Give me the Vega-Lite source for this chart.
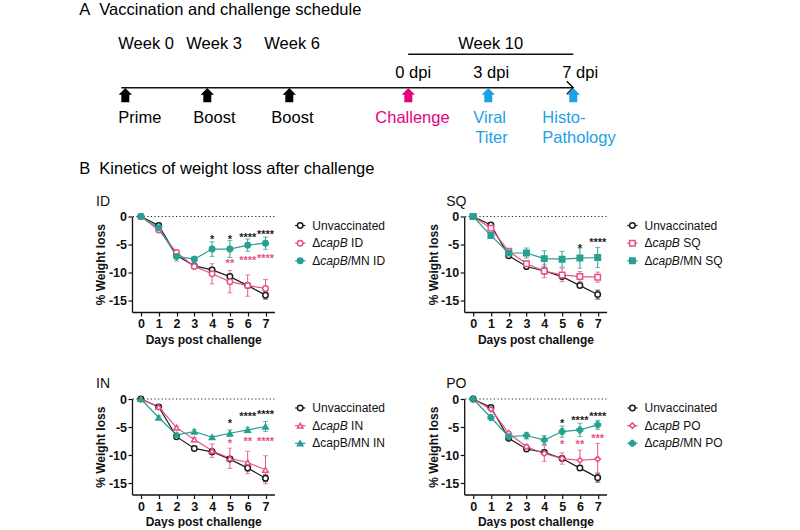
{
 "$schema": "https://vega.github.io/schema/vega-lite/v6.json",
 "padding": {"left": 79, "top": 0, "right": 5, "bottom": 0},
 "background": "white",
 "config": {
  "font": "Liberation Sans",
  "view": {"stroke": null},
  "axis": {"grid": false, "domainColor": "#111", "domainWidth": 1.3, "tickColor": "#111", "tickWidth": 1.2, "tickSize": 4, "labelFont": "Liberation Sans", "labelFontWeight": "bold", "labelFontSize": 12.5, "labelColor": "#111", "titleFont": "Liberation Sans", "titleFontWeight": "bold", "titleFontSize": 12, "titleColor": "#111", "labelOverlap": false},
  "axisX": {"labelPadding": 1.5, "titlePadding": 4, "labelAngle": 0, "labelOverlap": false},
  "axisY": {"labelPadding": 1.5, "titlePadding": 0.5},
  "title": {"font": "Liberation Sans", "fontSize": 14, "fontWeight": "normal", "anchor": "start", "frame": "group", "color": "#111"}
 },
 "datasets": {
  "sched_text": [
   {"t": -1.683, "lv": 0.465, "txt": "A", "k": "black"},
   {"t": -0.951, "lv": 0.465, "txt": "Vaccination and challenge schedule", "k": "black"},
   {"t": -0.256, "lv": 2.135, "txt": "Week 0", "k": "black"},
   {"t": 2.232, "lv": 2.135, "txt": "Week 3", "k": "black"},
   {"t": 5.086, "lv": 2.135, "txt": "Week 6", "k": "black"},
   {"t": 12.184, "lv": 2.135, "txt": "Week 10", "k": "black"},
   {"t": 9.879, "lv": 3.585, "txt": "0 dpi", "k": "black"},
   {"t": 12.733, "lv": 3.585, "txt": "3 dpi", "k": "black"},
   {"t": 15.99, "lv": 3.585, "txt": "7 dpi", "k": "black"},
   {"t": -0.256, "lv": 5.835, "txt": "Prime", "k": "black"},
   {"t": 2.488, "lv": 5.835, "txt": "Boost", "k": "black"},
   {"t": 5.342, "lv": 5.835, "txt": "Boost", "k": "black"},
   {"t": 9.147, "lv": 5.835, "txt": "Challenge", "k": "magenta"},
   {"t": 12.733, "lv": 5.835, "txt": "Viral", "k": "cyan"},
   {"t": 12.806, "lv": 6.835, "txt": "Titer", "k": "cyan"},
   {"t": 15.258, "lv": 5.835, "txt": "Histo-", "k": "cyan"},
   {"t": 15.258, "lv": 6.835, "txt": "Pathology", "k": "cyan"},
   {"t": -1.683, "lv": 8.4, "txt": "B", "k": "black"},
   {"t": -0.951, "lv": 8.4, "txt": "Kinetics of weight loss after challenge", "k": "black"}
  ],
  "sched_lines": [
   {"t": -0.146, "t2": 16.39, "lv": 4.335},
   {"t": 10.35, "t2": 16.39, "lv": 2.665}
  ],
  "sched_head": [{"t": 16.39, "lv": 4.335}],
  "sched_arrows": [
   {"t": 0, "lv": 4.71, "k": "black"},
   {"t": 3, "lv": 4.71, "k": "black"},
   {"t": 6, "lv": 4.71, "k": "black"},
   {"t": 10.355, "lv": 4.71, "k": "magenta"},
   {"t": 13.28, "lv": 4.71, "k": "cyan"},
   {"t": 16.39, "lv": 4.71, "k": "cyan"}
  ],
  "ID": [
   {"day":0,"g":"Unvaccinated","w":0,"e":0},{"day":1,"g":"Unvaccinated","w":-1.6,"e":0.3},{"day":2,"g":"Unvaccinated","w":-6.9,"e":0.5},{"day":3,"g":"Unvaccinated","w":-8.8,"e":0.3},{"day":4,"g":"Unvaccinated","w":-9.5,"e":0.4},{"day":5,"g":"Unvaccinated","w":-10.7,"e":0.4},{"day":6,"g":"Unvaccinated","w":-12.3,"e":0.4},{"day":7,"g":"Unvaccinated","w":-14.0,"e":0.7},
   {"day":0,"g":"ΔcapB ID","w":0,"e":0},{"day":1,"g":"ΔcapB ID","w":-2.4,"e":0.3},{"day":2,"g":"ΔcapB ID","w":-6.4,"e":0.4},{"day":3,"g":"ΔcapB ID","w":-8.9,"e":0.3},{"day":4,"g":"ΔcapB ID","w":-10.2,"e":1.8},{"day":5,"g":"ΔcapB ID","w":-11.6,"e":2.0},{"day":6,"g":"ΔcapB ID","w":-12.3,"e":1.9},{"day":7,"g":"ΔcapB ID","w":-12.8,"e":1.6},
   {"day":0,"g":"ΔcapB/MN ID","w":0,"e":0},{"day":1,"g":"ΔcapB/MN ID","w":-2.0,"e":0.3},{"day":2,"g":"ΔcapB/MN ID","w":-7.1,"e":0.8},{"day":3,"g":"ΔcapB/MN ID","w":-7.6,"e":0.5},{"day":4,"g":"ΔcapB/MN ID","w":-5.8,"e":1.3},{"day":5,"g":"ΔcapB/MN ID","w":-5.8,"e":1.5},{"day":6,"g":"ΔcapB/MN ID","w":-5.1,"e":1.1},{"day":7,"g":"ΔcapB/MN ID","w":-4.75,"e":1.1}
  ],
  "ID_s": [
   {"day":4,"w":-3.7,"s":"*","g":"Unvaccinated"},{"day":5,"w":-3.7,"s":"*","g":"Unvaccinated"},{"day":6,"w":-3.3,"s":"****","g":"Unvaccinated"},{"day":7,"w":-2.7,"s":"****","g":"Unvaccinated"},
   {"day":5,"w":-8.0,"s":"**","g":"ΔcapB ID"},{"day":6,"w":-7.4,"s":"****","g":"ΔcapB ID"},{"day":7,"w":-7.0,"s":"****","g":"ΔcapB ID"}
  ],
  "ID_l": [
   {"g":"Unvaccinated","a":"Unvaccinated","b":"","c":""},{"g":"ΔcapB ID","a":"Δ","b":"capB","c":"\u200b\u00a0ID"},{"g":"ΔcapB/MN ID","a":"Δ","b":"capB","c":"/MN ID"}
  ],
  "SQ": [
   {"day":0,"g":"Unvaccinated","w":0,"e":0},{"day":1,"g":"Unvaccinated","w":-1.5,"e":0.3},{"day":2,"g":"Unvaccinated","w":-7.0,"e":0.3},{"day":3,"g":"Unvaccinated","w":-8.9,"e":0.4},{"day":4,"g":"Unvaccinated","w":-9.7,"e":0.3},{"day":5,"g":"Unvaccinated","w":-10.7,"e":0.4},{"day":6,"g":"Unvaccinated","w":-12.3,"e":0.3},{"day":7,"g":"Unvaccinated","w":-13.9,"e":0.8},
   {"day":0,"g":"ΔcapB SQ","w":0,"e":0},{"day":1,"g":"ΔcapB SQ","w":-2.1,"e":0.3},{"day":2,"g":"ΔcapB SQ","w":-6.2,"e":0.3},{"day":3,"g":"ΔcapB SQ","w":-8.4,"e":0.5},{"day":4,"g":"ΔcapB SQ","w":-9.7,"e":1.2},{"day":5,"g":"ΔcapB SQ","w":-10.4,"e":1.2},{"day":6,"g":"ΔcapB SQ","w":-10.7,"e":0.9},{"day":7,"g":"ΔcapB SQ","w":-10.8,"e":0.9},
   {"day":0,"g":"ΔcapB/MN SQ","w":0,"e":0},{"day":1,"g":"ΔcapB/MN SQ","w":-3.4,"e":0.5},{"day":2,"g":"ΔcapB/MN SQ","w":-6.5,"e":0.4},{"day":3,"g":"ΔcapB/MN SQ","w":-6.5,"e":0.9},{"day":4,"g":"ΔcapB/MN SQ","w":-7.5,"e":1.4},{"day":5,"g":"ΔcapB/MN SQ","w":-7.6,"e":1.4},{"day":6,"g":"ΔcapB/MN SQ","w":-7.4,"e":1.8},{"day":7,"g":"ΔcapB/MN SQ","w":-7.3,"e":1.8}
  ],
  "SQ_s": [
   {"day":6,"w":-5.3,"s":"*","g":"Unvaccinated"},{"day":7,"w":-4.2,"s":"****","g":"Unvaccinated"}
  ],
  "SQ_l": [
   {"g":"Unvaccinated","a":"Unvaccinated","b":"","c":""},{"g":"ΔcapB SQ","a":"Δ","b":"capB","c":"\u200b\u00a0SQ"},{"g":"ΔcapB/MN SQ","a":"Δ","b":"capB","c":"/MN SQ"}
  ],
  "IN": [
   {"day":0,"g":"Unvaccinated","w":0,"e":0},{"day":1,"g":"Unvaccinated","w":-1.4,"e":0.3},{"day":2,"g":"Unvaccinated","w":-6.7,"e":0.3},{"day":3,"g":"Unvaccinated","w":-8.8,"e":0.3},{"day":4,"g":"Unvaccinated","w":-9.4,"e":0.5},{"day":5,"g":"Unvaccinated","w":-10.7,"e":0.4},{"day":6,"g":"Unvaccinated","w":-12.3,"e":0.5},{"day":7,"g":"Unvaccinated","w":-14.1,"e":0.6},
   {"day":0,"g":"ΔcapB IN","w":0,"e":0},{"day":1,"g":"ΔcapB IN","w":-1.4,"e":0.2},{"day":2,"g":"ΔcapB IN","w":-5.1,"e":0.3},{"day":3,"g":"ΔcapB IN","w":-7.2,"e":0.4},{"day":4,"g":"ΔcapB IN","w":-9.2,"e":1.2},{"day":5,"g":"ΔcapB IN","w":-10.55,"e":1.8},{"day":6,"g":"ΔcapB IN","w":-11.3,"e":2.0},{"day":7,"g":"ΔcapB IN","w":-12.6,"e":2.5},
   {"day":0,"g":"ΔcapB/MN IN","w":0,"e":0},{"day":1,"g":"ΔcapB/MN IN","w":-3.3,"e":0.3},{"day":2,"g":"ΔcapB/MN IN","w":-6.4,"e":0.4},{"day":3,"g":"ΔcapB/MN IN","w":-5.8,"e":0.4},{"day":4,"g":"ΔcapB/MN IN","w":-6.8,"e":0.2},{"day":5,"g":"ΔcapB/MN IN","w":-6.1,"e":0.6},{"day":6,"g":"ΔcapB/MN IN","w":-5.5,"e":0.5},{"day":7,"g":"ΔcapB/MN IN","w":-4.9,"e":0.9}
  ],
  "IN_s": [
   {"day":5,"w":-3.9,"s":"*","g":"Unvaccinated"},{"day":6,"w":-2.7,"s":"****","g":"Unvaccinated"},{"day":7,"w":-2.4,"s":"****","g":"Unvaccinated"},
   {"day":5,"w":-7.5,"s":"*","g":"ΔcapB IN"},{"day":6,"w":-7.2,"s":"**","g":"ΔcapB IN"},{"day":7,"w":-7.2,"s":"****","g":"ΔcapB IN"}
  ],
  "IN_l": [
   {"g":"Unvaccinated","a":"Unvaccinated","b":"","c":""},{"g":"ΔcapB IN","a":"Δ","b":"capB","c":"\u200b\u00a0IN"},{"g":"ΔcapB/MN IN","a":"ΔcapB/MN IN","b":"","c":""}
  ],
  "PO": [
   {"day":0,"g":"Unvaccinated","w":0,"e":0},{"day":1,"g":"Unvaccinated","w":-1.5,"e":0.3},{"day":2,"g":"Unvaccinated","w":-7.0,"e":0.4},{"day":3,"g":"Unvaccinated","w":-8.9,"e":0.3},{"day":4,"g":"Unvaccinated","w":-9.5,"e":0.4},{"day":5,"g":"Unvaccinated","w":-10.6,"e":0.4},{"day":6,"g":"Unvaccinated","w":-12.3,"e":0.4},{"day":7,"g":"Unvaccinated","w":-14.0,"e":0.8},
   {"day":0,"g":"ΔcapB PO","w":0,"e":0},{"day":1,"g":"ΔcapB PO","w":-1.8,"e":0.3},{"day":2,"g":"ΔcapB PO","w":-6.1,"e":0.3},{"day":3,"g":"ΔcapB PO","w":-8.5,"e":0.4},{"day":4,"g":"ΔcapB PO","w":-9.7,"e":1.4},{"day":5,"g":"ΔcapB PO","w":-10.6,"e":1.0},{"day":6,"g":"ΔcapB PO","w":-10.9,"e":1.8},{"day":7,"g":"ΔcapB PO","w":-10.7,"e":2.8},
   {"day":0,"g":"ΔcapB/MN PO","w":0,"e":0},{"day":1,"g":"ΔcapB/MN PO","w":-3.3,"e":0.4},{"day":2,"g":"ΔcapB/MN PO","w":-6.7,"e":0.4},{"day":3,"g":"ΔcapB/MN PO","w":-6.5,"e":0.6},{"day":4,"g":"ΔcapB/MN PO","w":-7.3,"e":0.8},{"day":5,"g":"ΔcapB/MN PO","w":-5.8,"e":1.0},{"day":6,"g":"ΔcapB/MN PO","w":-5.5,"e":1.2},{"day":7,"g":"ΔcapB/MN PO","w":-4.6,"e":0.8}
  ],
  "PO_s": [
   {"day":5,"w":-4.0,"s":"*","g":"Unvaccinated"},{"day":6,"w":-3.3,"s":"****","g":"Unvaccinated"},{"day":7,"w":-2.7,"s":"****","g":"Unvaccinated"},
   {"day":5,"w":-7.7,"s":"*","g":"ΔcapB PO"},{"day":6,"w":-7.6,"s":"**","g":"ΔcapB PO"},{"day":7,"w":-6.6,"s":"***","g":"ΔcapB PO"}
  ],
  "PO_l": [
   {"g":"Unvaccinated","a":"Unvaccinated","b":"","c":""},{"g":"ΔcapB PO","a":"Δ","b":"capB","c":"\u200b\u00a0PO"},{"g":"ΔcapB/MN PO","a":"Δ","b":"capB","c":"/MN PO"}
  ]
 },
 "columns": 2,
 "align": "each",
 "bounds": "flush",
 "spacing": {"row": 86.5, "column": 189.2},
 "resolve": {
  "scale": {"x": "independent", "y": "independent", "color": "independent", "stroke": "independent", "fill": "independent", "shape": "independent"}
 },
 "concat": [
  {
   "width": 142.4, "height": 128.5,
   "layer": [
    {"data": {"name": "sched_lines"}, "mark": {"type": "rule", "strokeWidth": 1.5, "color": "#111"},
     "encoding": {"x": {"field": "t", "type": "quantitative", "scale": {"domain": [0.245, 5.455], "nice": false, "zero": false}, "axis": null}, "x2": {"field": "t2"}, "y": {"field": "lv", "type": "quantitative", "scale": {"domain": [0, 6.425], "reverse": true, "nice": false, "zero": false}, "axis": null}}},
    {"data": {"name": "sched_head"}, "mark": {"type": "point", "shape": "M-1,-1L0,0L-1,1", "filled": false, "size": 169, "strokeWidth": 1.5, "color": "#111", "opacity": 1},
     "encoding": {"x": {"field": "t", "type": "quantitative", "scale": {"domain": [0.245, 5.455], "nice": false, "zero": false}, "axis": null}, "y": {"field": "lv", "type": "quantitative", "scale": {"domain": [0, 6.425], "reverse": true, "nice": false, "zero": false}, "axis": null}}},
    {"data": {"name": "sched_arrows"}, "mark": {"type": "point", "shape": "M0,-1.07L1,-0.05L0.6,-0.05L0.6,1.07L-0.6,1.07L-0.6,-0.05L-1,-0.05Z", "filled": true, "size": 177, "opacity": 1, "strokeWidth": 0},
     "encoding": {"x": {"field": "t", "type": "quantitative", "scale": {"domain": [0.245, 5.455], "nice": false, "zero": false}, "axis": null}, "y": {"field": "lv", "type": "quantitative", "scale": {"domain": [0, 6.425], "reverse": true, "nice": false, "zero": false}, "axis": null},
      "color": {"field": "k", "type": "nominal", "scale": {"domain": ["black", "magenta", "cyan"], "range": ["#000000", "#e5007d", "#1da1e2"]}, "legend": null}}},
    {"data": {"name": "sched_text"}, "mark": {"type": "text", "align": "left", "baseline": "middle", "fontSize": 16.5},
     "encoding": {"x": {"field": "t", "type": "quantitative", "scale": {"domain": [0.245, 5.455], "nice": false, "zero": false}, "axis": null}, "y": {"field": "lv", "type": "quantitative", "scale": {"domain": [0, 6.425], "reverse": true, "nice": false, "zero": false}, "axis": null},
      "text": {"field": "txt"},
      "color": {"field": "k", "type": "nominal", "scale": {"domain": ["black", "magenta", "cyan"], "range": ["#000000", "#e5007d", "#1da1e2"]}, "legend": null}}}
   ]
  },
  {
   "width": 142.4, "height": 10,
   "data": {"values": [{"a": 1}]},
   "mark": {"type": "text"},
   "encoding": {"text": {"value": ""}}
  },
  {
   "title": {"text": "ID", "dx": -36, "offset": 2},
   "width": 142.4, "height": 95.5,
   "resolve": {"scale": {"y": "independent"}},
   "layer": [
    {"data": {"name": "ID"},
     "layer": [
      {"data": {"values": [{"w": 0}]}, "mark": {"type": "rule", "strokeDash": [1.2, 2.4], "color": "#222", "strokeWidth": 1.2},
       "encoding": {"y": {"field": "w", "type": "quantitative", "scale": {"domain": [-17, 0], "nice": false, "zero": false}, "axis": {"values": [0, -5, -10, -15], "title": "% Weight loss", "labelExpr": "'' + datum.value"}}}},
      {"mark": {"type": "errorbar", "ticks": {"size": 5, "thickness": 1}, "rule": {"strokeWidth": 1}},
       "encoding": {"x": {"field": "day", "type": "quantitative", "scale": {"domain": [-0.5, 7.5], "nice": false, "zero": false}, "axis": {"values": [0,1,2,3,4,5,6,7], "title": "Days post challenge"}},
        "y": {"field": "w", "type": "quantitative", "scale": {"domain": [-17, 0], "nice": false, "zero": false}, "axis": {"values": [0, -5, -10, -15], "title": "% Weight loss", "labelExpr": "'' + datum.value"}},
        "yError": {"field": "e"},
        "color": {"field": "g", "type": "nominal", "scale": {"domain": ["Unvaccinated", "ΔcapB ID", "ΔcapB/MN ID"], "range": ["#1d1d1b", "#e8508a", "#27a092"]}, "legend": null}}},
      {"mark": {"type": "line", "strokeWidth": 1.2},
       "encoding": {"x": {"field": "day", "type": "quantitative", "scale": {"domain": [-0.5, 7.5], "nice": false, "zero": false}, "axis": {"values": [0,1,2,3,4,5,6,7], "title": "Days post challenge"}},
        "y": {"field": "w", "type": "quantitative", "scale": {"domain": [-17, 0], "nice": false, "zero": false}, "axis": {"values": [0, -5, -10, -15], "title": "% Weight loss", "labelExpr": "'' + datum.value"}},
        "color": {"field": "g", "type": "nominal", "scale": {"domain": ["Unvaccinated", "ΔcapB ID", "ΔcapB/MN ID"], "range": ["#1d1d1b", "#e8508a", "#27a092"]}, "legend": null}}},
      {"mark": {"type": "point", "filled": true, "size": 30, "strokeWidth": 1.5, "opacity": 1},
       "encoding": {"x": {"field": "day", "type": "quantitative", "scale": {"domain": [-0.5, 7.5], "nice": false, "zero": false}, "axis": {"values": [0,1,2,3,4,5,6,7], "title": "Days post challenge"}},
        "y": {"field": "w", "type": "quantitative", "scale": {"domain": [-17, 0], "nice": false, "zero": false}, "axis": {"values": [0, -5, -10, -15], "title": "% Weight loss", "labelExpr": "'' + datum.value"}},
        "stroke": {"field": "g", "type": "nominal", "scale": {"domain": ["Unvaccinated", "ΔcapB ID", "ΔcapB/MN ID"], "range": ["#1d1d1b", "#e8508a", "#27a092"]}, "legend": null},
        "fill": {"field": "g", "type": "nominal", "scale": {"domain": ["Unvaccinated", "ΔcapB ID", "ΔcapB/MN ID"], "range": ["#ffffff", "#ffffff", "#27a092"]}, "legend": null},
        "shape": {"field": "g", "type": "nominal", "scale": {"domain": ["Unvaccinated", "ΔcapB ID", "ΔcapB/MN ID"], "range": ["circle", "circle", "circle"]}, "legend": null}}},
      {"data": {"name": "ID_s"}, "mark": {"type": "text", "fontSize": 11, "fontWeight": "bold", "dy": 3},
       "encoding": {"x": {"field": "day", "type": "quantitative", "scale": {"domain": [-0.5, 7.5], "nice": false, "zero": false}, "axis": {"values": [0,1,2,3,4,5,6,7], "title": "Days post challenge"}},
        "y": {"field": "w", "type": "quantitative", "scale": {"domain": [-17, 0], "nice": false, "zero": false}, "axis": {"values": [0, -5, -10, -15], "title": "% Weight loss", "labelExpr": "'' + datum.value"}},
        "text": {"field": "s"},
        "color": {"field": "g", "type": "nominal", "scale": {"domain": ["Unvaccinated", "ΔcapB ID", "ΔcapB/MN ID"], "range": ["#1d1d1b", "#e8508a", "#27a092"]}, "legend": null}}}
     ]},
    {"data": {"name": "ID_l"},
     "layer": [
      {"mark": {"type": "rule", "strokeWidth": 1.2},
       "encoding": {"x": {"datum": 8.66, "type": "quantitative", "scale": {"domain": [-0.5, 7.5], "nice": false, "zero": false}, "axis": {"values": [0,1,2,3,4,5,6,7], "title": "Days post challenge"}}, "x2": {"datum": 9.24},
        "y": {"field": "g", "type": "nominal", "scale": {"type": "point", "domain": ["Unvaccinated", "ΔcapB ID", "ΔcapB/MN ID"], "range": [9, 44.3], "padding": 0}, "axis": null},
        "color": {"field": "g", "type": "nominal", "scale": {"domain": ["Unvaccinated", "ΔcapB ID", "ΔcapB/MN ID"], "range": ["#1d1d1b", "#e8508a", "#27a092"]}, "legend": null}}},
      {"mark": {"type": "point", "filled": true, "size": 30, "strokeWidth": 1.5, "opacity": 1},
       "encoding": {"x": {"datum": 8.95, "type": "quantitative", "scale": {"domain": [-0.5, 7.5], "nice": false, "zero": false}, "axis": {"values": [0,1,2,3,4,5,6,7], "title": "Days post challenge"}},
        "y": {"field": "g", "type": "nominal", "scale": {"type": "point", "domain": ["Unvaccinated", "ΔcapB ID", "ΔcapB/MN ID"], "range": [9, 44.3], "padding": 0}, "axis": null},
        "stroke": {"field": "g", "type": "nominal", "scale": {"domain": ["Unvaccinated", "ΔcapB ID", "ΔcapB/MN ID"], "range": ["#1d1d1b", "#e8508a", "#27a092"]}, "legend": null},
        "fill": {"field": "g", "type": "nominal", "scale": {"domain": ["Unvaccinated", "ΔcapB ID", "ΔcapB/MN ID"], "range": ["#ffffff", "#ffffff", "#27a092"]}, "legend": null},
        "shape": {"field": "g", "type": "nominal", "scale": {"domain": ["Unvaccinated", "ΔcapB ID", "ΔcapB/MN ID"], "range": ["circle", "circle", "circle"]}, "legend": null}}},
      {"mark": {"type": "text", "align": "left", "baseline": "middle", "fontSize": 12, "color": "#111"},
       "encoding": {"x": {"datum": 9.63, "type": "quantitative", "scale": {"domain": [-0.5, 7.5], "nice": false, "zero": false}, "axis": {"values": [0,1,2,3,4,5,6,7], "title": "Days post challenge"}},
        "y": {"field": "g", "type": "nominal", "scale": {"type": "point", "domain": ["Unvaccinated", "ΔcapB ID", "ΔcapB/MN ID"], "range": [9, 44.3], "padding": 0}, "axis": null},
        "text": {"field": "a"}}},
      {"mark": {"type": "text", "align": "left", "baseline": "middle", "fontSize": 12, "fontStyle": "italic", "dx": 8.0, "color": "#111"},
       "encoding": {"x": {"datum": 9.63, "type": "quantitative", "scale": {"domain": [-0.5, 7.5], "nice": false, "zero": false}, "axis": {"values": [0,1,2,3,4,5,6,7], "title": "Days post challenge"}},
        "y": {"field": "g", "type": "nominal", "scale": {"type": "point", "domain": ["Unvaccinated", "ΔcapB ID", "ΔcapB/MN ID"], "range": [9, 44.3], "padding": 0}, "axis": null},
        "text": {"field": "b"}}},
      {"mark": {"type": "text", "align": "left", "baseline": "middle", "fontSize": 12, "dx": 35.4, "color": "#111"},
       "encoding": {"x": {"datum": 9.63, "type": "quantitative", "scale": {"domain": [-0.5, 7.5], "nice": false, "zero": false}, "axis": {"values": [0,1,2,3,4,5,6,7], "title": "Days post challenge"}},
        "y": {"field": "g", "type": "nominal", "scale": {"type": "point", "domain": ["Unvaccinated", "ΔcapB ID", "ΔcapB/MN ID"], "range": [9, 44.3], "padding": 0}, "axis": null},
        "text": {"field": "c"}}}
     ]}
   ]
  },
  {
   "title": {"text": "SQ", "dx": -18, "offset": 2},
   "width": 142.4, "height": 95.5,
   "resolve": {"scale": {"y": "independent"}},
   "layer": [
    {"data": {"name": "SQ"},
     "layer": [
      {"data": {"values": [{"w": 0}]}, "mark": {"type": "rule", "strokeDash": [1.2, 2.4], "color": "#222", "strokeWidth": 1.2},
       "encoding": {"y": {"field": "w", "type": "quantitative", "scale": {"domain": [-17, 0], "nice": false, "zero": false}, "axis": {"values": [0, -5, -10, -15], "title": "% Weight loss", "labelExpr": "'' + datum.value"}}}},
      {"mark": {"type": "errorbar", "ticks": {"size": 5, "thickness": 1}, "rule": {"strokeWidth": 1}},
       "encoding": {"x": {"field": "day", "type": "quantitative", "scale": {"domain": [-0.5, 7.5], "nice": false, "zero": false}, "axis": {"values": [0,1,2,3,4,5,6,7], "title": "Days post challenge"}},
        "y": {"field": "w", "type": "quantitative", "scale": {"domain": [-17, 0], "nice": false, "zero": false}, "axis": {"values": [0, -5, -10, -15], "title": "% Weight loss", "labelExpr": "'' + datum.value"}},
        "yError": {"field": "e"},
        "color": {"field": "g", "type": "nominal", "scale": {"domain": ["Unvaccinated", "ΔcapB SQ", "ΔcapB/MN SQ"], "range": ["#1d1d1b", "#e8508a", "#27a092"]}, "legend": null}}},
      {"mark": {"type": "line", "strokeWidth": 1.2},
       "encoding": {"x": {"field": "day", "type": "quantitative", "scale": {"domain": [-0.5, 7.5], "nice": false, "zero": false}, "axis": {"values": [0,1,2,3,4,5,6,7], "title": "Days post challenge"}},
        "y": {"field": "w", "type": "quantitative", "scale": {"domain": [-17, 0], "nice": false, "zero": false}, "axis": {"values": [0, -5, -10, -15], "title": "% Weight loss", "labelExpr": "'' + datum.value"}},
        "color": {"field": "g", "type": "nominal", "scale": {"domain": ["Unvaccinated", "ΔcapB SQ", "ΔcapB/MN SQ"], "range": ["#1d1d1b", "#e8508a", "#27a092"]}, "legend": null}}},
      {"mark": {"type": "point", "filled": true, "size": 30, "strokeWidth": 1.5, "opacity": 1},
       "encoding": {"x": {"field": "day", "type": "quantitative", "scale": {"domain": [-0.5, 7.5], "nice": false, "zero": false}, "axis": {"values": [0,1,2,3,4,5,6,7], "title": "Days post challenge"}},
        "y": {"field": "w", "type": "quantitative", "scale": {"domain": [-17, 0], "nice": false, "zero": false}, "axis": {"values": [0, -5, -10, -15], "title": "% Weight loss", "labelExpr": "'' + datum.value"}},
        "stroke": {"field": "g", "type": "nominal", "scale": {"domain": ["Unvaccinated", "ΔcapB SQ", "ΔcapB/MN SQ"], "range": ["#1d1d1b", "#e8508a", "#27a092"]}, "legend": null},
        "fill": {"field": "g", "type": "nominal", "scale": {"domain": ["Unvaccinated", "ΔcapB SQ", "ΔcapB/MN SQ"], "range": ["#ffffff", "#ffffff", "#27a092"]}, "legend": null},
        "shape": {"field": "g", "type": "nominal", "scale": {"domain": ["Unvaccinated", "ΔcapB SQ", "ΔcapB/MN SQ"], "range": ["circle", "square", "square"]}, "legend": null}}},
      {"data": {"name": "SQ_s"}, "mark": {"type": "text", "fontSize": 11, "fontWeight": "bold", "dy": 3},
       "encoding": {"x": {"field": "day", "type": "quantitative", "scale": {"domain": [-0.5, 7.5], "nice": false, "zero": false}, "axis": {"values": [0,1,2,3,4,5,6,7], "title": "Days post challenge"}},
        "y": {"field": "w", "type": "quantitative", "scale": {"domain": [-17, 0], "nice": false, "zero": false}, "axis": {"values": [0, -5, -10, -15], "title": "% Weight loss", "labelExpr": "'' + datum.value"}},
        "text": {"field": "s"},
        "color": {"field": "g", "type": "nominal", "scale": {"domain": ["Unvaccinated", "ΔcapB SQ", "ΔcapB/MN SQ"], "range": ["#1d1d1b", "#e8508a", "#27a092"]}, "legend": null}}}
     ]},
    {"data": {"name": "SQ_l"},
     "layer": [
      {"mark": {"type": "rule", "strokeWidth": 1.2},
       "encoding": {"x": {"datum": 8.66, "type": "quantitative", "scale": {"domain": [-0.5, 7.5], "nice": false, "zero": false}, "axis": {"values": [0,1,2,3,4,5,6,7], "title": "Days post challenge"}}, "x2": {"datum": 9.24},
        "y": {"field": "g", "type": "nominal", "scale": {"type": "point", "domain": ["Unvaccinated", "ΔcapB SQ", "ΔcapB/MN SQ"], "range": [9, 44.3], "padding": 0}, "axis": null},
        "color": {"field": "g", "type": "nominal", "scale": {"domain": ["Unvaccinated", "ΔcapB SQ", "ΔcapB/MN SQ"], "range": ["#1d1d1b", "#e8508a", "#27a092"]}, "legend": null}}},
      {"mark": {"type": "point", "filled": true, "size": 30, "strokeWidth": 1.5, "opacity": 1},
       "encoding": {"x": {"datum": 8.95, "type": "quantitative", "scale": {"domain": [-0.5, 7.5], "nice": false, "zero": false}, "axis": {"values": [0,1,2,3,4,5,6,7], "title": "Days post challenge"}},
        "y": {"field": "g", "type": "nominal", "scale": {"type": "point", "domain": ["Unvaccinated", "ΔcapB SQ", "ΔcapB/MN SQ"], "range": [9, 44.3], "padding": 0}, "axis": null},
        "stroke": {"field": "g", "type": "nominal", "scale": {"domain": ["Unvaccinated", "ΔcapB SQ", "ΔcapB/MN SQ"], "range": ["#1d1d1b", "#e8508a", "#27a092"]}, "legend": null},
        "fill": {"field": "g", "type": "nominal", "scale": {"domain": ["Unvaccinated", "ΔcapB SQ", "ΔcapB/MN SQ"], "range": ["#ffffff", "#ffffff", "#27a092"]}, "legend": null},
        "shape": {"field": "g", "type": "nominal", "scale": {"domain": ["Unvaccinated", "ΔcapB SQ", "ΔcapB/MN SQ"], "range": ["circle", "square", "square"]}, "legend": null}}},
      {"mark": {"type": "text", "align": "left", "baseline": "middle", "fontSize": 12, "color": "#111"},
       "encoding": {"x": {"datum": 9.63, "type": "quantitative", "scale": {"domain": [-0.5, 7.5], "nice": false, "zero": false}, "axis": {"values": [0,1,2,3,4,5,6,7], "title": "Days post challenge"}},
        "y": {"field": "g", "type": "nominal", "scale": {"type": "point", "domain": ["Unvaccinated", "ΔcapB SQ", "ΔcapB/MN SQ"], "range": [9, 44.3], "padding": 0}, "axis": null},
        "text": {"field": "a"}}},
      {"mark": {"type": "text", "align": "left", "baseline": "middle", "fontSize": 12, "fontStyle": "italic", "dx": 8.0, "color": "#111"},
       "encoding": {"x": {"datum": 9.63, "type": "quantitative", "scale": {"domain": [-0.5, 7.5], "nice": false, "zero": false}, "axis": {"values": [0,1,2,3,4,5,6,7], "title": "Days post challenge"}},
        "y": {"field": "g", "type": "nominal", "scale": {"type": "point", "domain": ["Unvaccinated", "ΔcapB SQ", "ΔcapB/MN SQ"], "range": [9, 44.3], "padding": 0}, "axis": null},
        "text": {"field": "b"}}},
      {"mark": {"type": "text", "align": "left", "baseline": "middle", "fontSize": 12, "dx": 35.4, "color": "#111"},
       "encoding": {"x": {"datum": 9.63, "type": "quantitative", "scale": {"domain": [-0.5, 7.5], "nice": false, "zero": false}, "axis": {"values": [0,1,2,3,4,5,6,7], "title": "Days post challenge"}},
        "y": {"field": "g", "type": "nominal", "scale": {"type": "point", "domain": ["Unvaccinated", "ΔcapB SQ", "ΔcapB/MN SQ"], "range": [9, 44.3], "padding": 0}, "axis": null},
        "text": {"field": "c"}}}
     ]}
   ]
  },
  {
   "title": {"text": "IN", "dx": -36, "offset": 2},
   "width": 142.4, "height": 95.5,
   "resolve": {"scale": {"y": "independent"}},
   "layer": [
    {"data": {"name": "IN"},
     "layer": [
      {"data": {"values": [{"w": 0}]}, "mark": {"type": "rule", "strokeDash": [1.2, 2.4], "color": "#222", "strokeWidth": 1.2},
       "encoding": {"y": {"field": "w", "type": "quantitative", "scale": {"domain": [-17, 0], "nice": false, "zero": false}, "axis": {"values": [0, -5, -10, -15], "title": "% Weight loss", "labelExpr": "'' + datum.value"}}}},
      {"mark": {"type": "errorbar", "ticks": {"size": 5, "thickness": 1}, "rule": {"strokeWidth": 1}},
       "encoding": {"x": {"field": "day", "type": "quantitative", "scale": {"domain": [-0.5, 7.5], "nice": false, "zero": false}, "axis": {"values": [0,1,2,3,4,5,6,7], "title": "Days post challenge"}},
        "y": {"field": "w", "type": "quantitative", "scale": {"domain": [-17, 0], "nice": false, "zero": false}, "axis": {"values": [0, -5, -10, -15], "title": "% Weight loss", "labelExpr": "'' + datum.value"}},
        "yError": {"field": "e"},
        "color": {"field": "g", "type": "nominal", "scale": {"domain": ["Unvaccinated", "ΔcapB IN", "ΔcapB/MN IN"], "range": ["#1d1d1b", "#e8508a", "#27a092"]}, "legend": null}}},
      {"mark": {"type": "line", "strokeWidth": 1.2},
       "encoding": {"x": {"field": "day", "type": "quantitative", "scale": {"domain": [-0.5, 7.5], "nice": false, "zero": false}, "axis": {"values": [0,1,2,3,4,5,6,7], "title": "Days post challenge"}},
        "y": {"field": "w", "type": "quantitative", "scale": {"domain": [-17, 0], "nice": false, "zero": false}, "axis": {"values": [0, -5, -10, -15], "title": "% Weight loss", "labelExpr": "'' + datum.value"}},
        "color": {"field": "g", "type": "nominal", "scale": {"domain": ["Unvaccinated", "ΔcapB IN", "ΔcapB/MN IN"], "range": ["#1d1d1b", "#e8508a", "#27a092"]}, "legend": null}}},
      {"mark": {"type": "point", "filled": true, "size": 30, "strokeWidth": 1.5, "opacity": 1},
       "encoding": {"x": {"field": "day", "type": "quantitative", "scale": {"domain": [-0.5, 7.5], "nice": false, "zero": false}, "axis": {"values": [0,1,2,3,4,5,6,7], "title": "Days post challenge"}},
        "y": {"field": "w", "type": "quantitative", "scale": {"domain": [-17, 0], "nice": false, "zero": false}, "axis": {"values": [0, -5, -10, -15], "title": "% Weight loss", "labelExpr": "'' + datum.value"}},
        "stroke": {"field": "g", "type": "nominal", "scale": {"domain": ["Unvaccinated", "ΔcapB IN", "ΔcapB/MN IN"], "range": ["#1d1d1b", "#e8508a", "#27a092"]}, "legend": null},
        "fill": {"field": "g", "type": "nominal", "scale": {"domain": ["Unvaccinated", "ΔcapB IN", "ΔcapB/MN IN"], "range": ["#ffffff", "#ffffff", "#27a092"]}, "legend": null},
        "shape": {"field": "g", "type": "nominal", "scale": {"domain": ["Unvaccinated", "ΔcapB IN", "ΔcapB/MN IN"], "range": ["circle", "triangle-up", "triangle-up"]}, "legend": null}}},
      {"data": {"name": "IN_s"}, "mark": {"type": "text", "fontSize": 11, "fontWeight": "bold", "dy": 3},
       "encoding": {"x": {"field": "day", "type": "quantitative", "scale": {"domain": [-0.5, 7.5], "nice": false, "zero": false}, "axis": {"values": [0,1,2,3,4,5,6,7], "title": "Days post challenge"}},
        "y": {"field": "w", "type": "quantitative", "scale": {"domain": [-17, 0], "nice": false, "zero": false}, "axis": {"values": [0, -5, -10, -15], "title": "% Weight loss", "labelExpr": "'' + datum.value"}},
        "text": {"field": "s"},
        "color": {"field": "g", "type": "nominal", "scale": {"domain": ["Unvaccinated", "ΔcapB IN", "ΔcapB/MN IN"], "range": ["#1d1d1b", "#e8508a", "#27a092"]}, "legend": null}}}
     ]},
    {"data": {"name": "IN_l"},
     "layer": [
      {"mark": {"type": "rule", "strokeWidth": 1.2},
       "encoding": {"x": {"datum": 8.66, "type": "quantitative", "scale": {"domain": [-0.5, 7.5], "nice": false, "zero": false}, "axis": {"values": [0,1,2,3,4,5,6,7], "title": "Days post challenge"}}, "x2": {"datum": 9.24},
        "y": {"field": "g", "type": "nominal", "scale": {"type": "point", "domain": ["Unvaccinated", "ΔcapB IN", "ΔcapB/MN IN"], "range": [9, 44.3], "padding": 0}, "axis": null},
        "color": {"field": "g", "type": "nominal", "scale": {"domain": ["Unvaccinated", "ΔcapB IN", "ΔcapB/MN IN"], "range": ["#1d1d1b", "#e8508a", "#27a092"]}, "legend": null}}},
      {"mark": {"type": "point", "filled": true, "size": 30, "strokeWidth": 1.5, "opacity": 1},
       "encoding": {"x": {"datum": 8.95, "type": "quantitative", "scale": {"domain": [-0.5, 7.5], "nice": false, "zero": false}, "axis": {"values": [0,1,2,3,4,5,6,7], "title": "Days post challenge"}},
        "y": {"field": "g", "type": "nominal", "scale": {"type": "point", "domain": ["Unvaccinated", "ΔcapB IN", "ΔcapB/MN IN"], "range": [9, 44.3], "padding": 0}, "axis": null},
        "stroke": {"field": "g", "type": "nominal", "scale": {"domain": ["Unvaccinated", "ΔcapB IN", "ΔcapB/MN IN"], "range": ["#1d1d1b", "#e8508a", "#27a092"]}, "legend": null},
        "fill": {"field": "g", "type": "nominal", "scale": {"domain": ["Unvaccinated", "ΔcapB IN", "ΔcapB/MN IN"], "range": ["#ffffff", "#ffffff", "#27a092"]}, "legend": null},
        "shape": {"field": "g", "type": "nominal", "scale": {"domain": ["Unvaccinated", "ΔcapB IN", "ΔcapB/MN IN"], "range": ["circle", "triangle-up", "triangle-up"]}, "legend": null}}},
      {"mark": {"type": "text", "align": "left", "baseline": "middle", "fontSize": 12, "color": "#111"},
       "encoding": {"x": {"datum": 9.63, "type": "quantitative", "scale": {"domain": [-0.5, 7.5], "nice": false, "zero": false}, "axis": {"values": [0,1,2,3,4,5,6,7], "title": "Days post challenge"}},
        "y": {"field": "g", "type": "nominal", "scale": {"type": "point", "domain": ["Unvaccinated", "ΔcapB IN", "ΔcapB/MN IN"], "range": [9, 44.3], "padding": 0}, "axis": null},
        "text": {"field": "a"}}},
      {"mark": {"type": "text", "align": "left", "baseline": "middle", "fontSize": 12, "fontStyle": "italic", "dx": 8.0, "color": "#111"},
       "encoding": {"x": {"datum": 9.63, "type": "quantitative", "scale": {"domain": [-0.5, 7.5], "nice": false, "zero": false}, "axis": {"values": [0,1,2,3,4,5,6,7], "title": "Days post challenge"}},
        "y": {"field": "g", "type": "nominal", "scale": {"type": "point", "domain": ["Unvaccinated", "ΔcapB IN", "ΔcapB/MN IN"], "range": [9, 44.3], "padding": 0}, "axis": null},
        "text": {"field": "b"}}},
      {"mark": {"type": "text", "align": "left", "baseline": "middle", "fontSize": 12, "dx": 35.4, "color": "#111"},
       "encoding": {"x": {"datum": 9.63, "type": "quantitative", "scale": {"domain": [-0.5, 7.5], "nice": false, "zero": false}, "axis": {"values": [0,1,2,3,4,5,6,7], "title": "Days post challenge"}},
        "y": {"field": "g", "type": "nominal", "scale": {"type": "point", "domain": ["Unvaccinated", "ΔcapB IN", "ΔcapB/MN IN"], "range": [9, 44.3], "padding": 0}, "axis": null},
        "text": {"field": "c"}}}
     ]}
   ]
  },
  {
   "title": {"text": "PO", "dx": -18, "offset": 2},
   "width": 142.4, "height": 95.5,
   "resolve": {"scale": {"y": "independent"}},
   "layer": [
    {"data": {"name": "PO"},
     "layer": [
      {"data": {"values": [{"w": 0}]}, "mark": {"type": "rule", "strokeDash": [1.2, 2.4], "color": "#222", "strokeWidth": 1.2},
       "encoding": {"y": {"field": "w", "type": "quantitative", "scale": {"domain": [-17, 0], "nice": false, "zero": false}, "axis": {"values": [0, -5, -10, -15], "title": "% Weight loss", "labelExpr": "'' + datum.value"}}}},
      {"mark": {"type": "errorbar", "ticks": {"size": 5, "thickness": 1}, "rule": {"strokeWidth": 1}},
       "encoding": {"x": {"field": "day", "type": "quantitative", "scale": {"domain": [-0.5, 7.5], "nice": false, "zero": false}, "axis": {"values": [0,1,2,3,4,5,6,7], "title": "Days post challenge"}},
        "y": {"field": "w", "type": "quantitative", "scale": {"domain": [-17, 0], "nice": false, "zero": false}, "axis": {"values": [0, -5, -10, -15], "title": "% Weight loss", "labelExpr": "'' + datum.value"}},
        "yError": {"field": "e"},
        "color": {"field": "g", "type": "nominal", "scale": {"domain": ["Unvaccinated", "ΔcapB PO", "ΔcapB/MN PO"], "range": ["#1d1d1b", "#e8508a", "#27a092"]}, "legend": null}}},
      {"mark": {"type": "line", "strokeWidth": 1.2},
       "encoding": {"x": {"field": "day", "type": "quantitative", "scale": {"domain": [-0.5, 7.5], "nice": false, "zero": false}, "axis": {"values": [0,1,2,3,4,5,6,7], "title": "Days post challenge"}},
        "y": {"field": "w", "type": "quantitative", "scale": {"domain": [-17, 0], "nice": false, "zero": false}, "axis": {"values": [0, -5, -10, -15], "title": "% Weight loss", "labelExpr": "'' + datum.value"}},
        "color": {"field": "g", "type": "nominal", "scale": {"domain": ["Unvaccinated", "ΔcapB PO", "ΔcapB/MN PO"], "range": ["#1d1d1b", "#e8508a", "#27a092"]}, "legend": null}}},
      {"mark": {"type": "point", "filled": true, "size": 30, "strokeWidth": 1.5, "opacity": 1},
       "encoding": {"x": {"field": "day", "type": "quantitative", "scale": {"domain": [-0.5, 7.5], "nice": false, "zero": false}, "axis": {"values": [0,1,2,3,4,5,6,7], "title": "Days post challenge"}},
        "y": {"field": "w", "type": "quantitative", "scale": {"domain": [-17, 0], "nice": false, "zero": false}, "axis": {"values": [0, -5, -10, -15], "title": "% Weight loss", "labelExpr": "'' + datum.value"}},
        "stroke": {"field": "g", "type": "nominal", "scale": {"domain": ["Unvaccinated", "ΔcapB PO", "ΔcapB/MN PO"], "range": ["#1d1d1b", "#e8508a", "#27a092"]}, "legend": null},
        "fill": {"field": "g", "type": "nominal", "scale": {"domain": ["Unvaccinated", "ΔcapB PO", "ΔcapB/MN PO"], "range": ["#ffffff", "#ffffff", "#27a092"]}, "legend": null},
        "shape": {"field": "g", "type": "nominal", "scale": {"domain": ["Unvaccinated", "ΔcapB PO", "ΔcapB/MN PO"], "range": ["circle", "diamond", "cross"]}, "legend": null}}},
      {"data": {"name": "PO_s"}, "mark": {"type": "text", "fontSize": 11, "fontWeight": "bold", "dy": 3},
       "encoding": {"x": {"field": "day", "type": "quantitative", "scale": {"domain": [-0.5, 7.5], "nice": false, "zero": false}, "axis": {"values": [0,1,2,3,4,5,6,7], "title": "Days post challenge"}},
        "y": {"field": "w", "type": "quantitative", "scale": {"domain": [-17, 0], "nice": false, "zero": false}, "axis": {"values": [0, -5, -10, -15], "title": "% Weight loss", "labelExpr": "'' + datum.value"}},
        "text": {"field": "s"},
        "color": {"field": "g", "type": "nominal", "scale": {"domain": ["Unvaccinated", "ΔcapB PO", "ΔcapB/MN PO"], "range": ["#1d1d1b", "#e8508a", "#27a092"]}, "legend": null}}}
     ]},
    {"data": {"name": "PO_l"},
     "layer": [
      {"mark": {"type": "rule", "strokeWidth": 1.2},
       "encoding": {"x": {"datum": 8.66, "type": "quantitative", "scale": {"domain": [-0.5, 7.5], "nice": false, "zero": false}, "axis": {"values": [0,1,2,3,4,5,6,7], "title": "Days post challenge"}}, "x2": {"datum": 9.24},
        "y": {"field": "g", "type": "nominal", "scale": {"type": "point", "domain": ["Unvaccinated", "ΔcapB PO", "ΔcapB/MN PO"], "range": [9, 44.3], "padding": 0}, "axis": null},
        "color": {"field": "g", "type": "nominal", "scale": {"domain": ["Unvaccinated", "ΔcapB PO", "ΔcapB/MN PO"], "range": ["#1d1d1b", "#e8508a", "#27a092"]}, "legend": null}}},
      {"mark": {"type": "point", "filled": true, "size": 30, "strokeWidth": 1.5, "opacity": 1},
       "encoding": {"x": {"datum": 8.95, "type": "quantitative", "scale": {"domain": [-0.5, 7.5], "nice": false, "zero": false}, "axis": {"values": [0,1,2,3,4,5,6,7], "title": "Days post challenge"}},
        "y": {"field": "g", "type": "nominal", "scale": {"type": "point", "domain": ["Unvaccinated", "ΔcapB PO", "ΔcapB/MN PO"], "range": [9, 44.3], "padding": 0}, "axis": null},
        "stroke": {"field": "g", "type": "nominal", "scale": {"domain": ["Unvaccinated", "ΔcapB PO", "ΔcapB/MN PO"], "range": ["#1d1d1b", "#e8508a", "#27a092"]}, "legend": null},
        "fill": {"field": "g", "type": "nominal", "scale": {"domain": ["Unvaccinated", "ΔcapB PO", "ΔcapB/MN PO"], "range": ["#ffffff", "#ffffff", "#27a092"]}, "legend": null},
        "shape": {"field": "g", "type": "nominal", "scale": {"domain": ["Unvaccinated", "ΔcapB PO", "ΔcapB/MN PO"], "range": ["circle", "diamond", "cross"]}, "legend": null}}},
      {"mark": {"type": "text", "align": "left", "baseline": "middle", "fontSize": 12, "color": "#111"},
       "encoding": {"x": {"datum": 9.63, "type": "quantitative", "scale": {"domain": [-0.5, 7.5], "nice": false, "zero": false}, "axis": {"values": [0,1,2,3,4,5,6,7], "title": "Days post challenge"}},
        "y": {"field": "g", "type": "nominal", "scale": {"type": "point", "domain": ["Unvaccinated", "ΔcapB PO", "ΔcapB/MN PO"], "range": [9, 44.3], "padding": 0}, "axis": null},
        "text": {"field": "a"}}},
      {"mark": {"type": "text", "align": "left", "baseline": "middle", "fontSize": 12, "fontStyle": "italic", "dx": 8.0, "color": "#111"},
       "encoding": {"x": {"datum": 9.63, "type": "quantitative", "scale": {"domain": [-0.5, 7.5], "nice": false, "zero": false}, "axis": {"values": [0,1,2,3,4,5,6,7], "title": "Days post challenge"}},
        "y": {"field": "g", "type": "nominal", "scale": {"type": "point", "domain": ["Unvaccinated", "ΔcapB PO", "ΔcapB/MN PO"], "range": [9, 44.3], "padding": 0}, "axis": null},
        "text": {"field": "b"}}},
      {"mark": {"type": "text", "align": "left", "baseline": "middle", "fontSize": 12, "dx": 35.4, "color": "#111"},
       "encoding": {"x": {"datum": 9.63, "type": "quantitative", "scale": {"domain": [-0.5, 7.5], "nice": false, "zero": false}, "axis": {"values": [0,1,2,3,4,5,6,7], "title": "Days post challenge"}},
        "y": {"field": "g", "type": "nominal", "scale": {"type": "point", "domain": ["Unvaccinated", "ΔcapB PO", "ΔcapB/MN PO"], "range": [9, 44.3], "padding": 0}, "axis": null},
        "text": {"field": "c"}}}
     ]}
   ]
  }
 ]
}
